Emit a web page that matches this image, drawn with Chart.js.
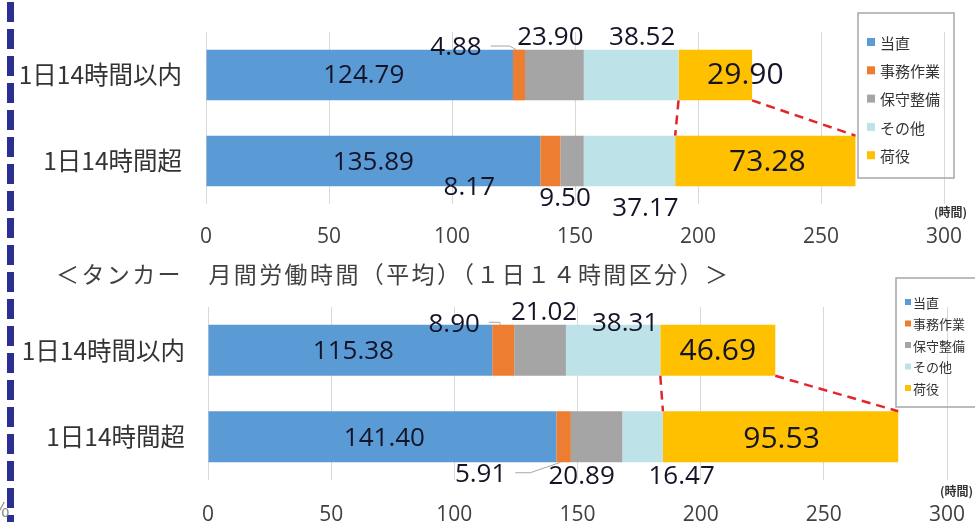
<!DOCTYPE html>
<html lang="ja">
<head>
<meta charset="utf-8">
<title>月間労働時間（1日14時間区分）</title>
<script src="https://cdn.jsdelivr.net/npm/chart.js@4.4.1/dist/chart.umd.min.js"></script>
<style>
  html, body { margin: 0; padding: 0; background: #fff; }
  body {
    width: 975px; height: 522px; position: relative; overflow: hidden;
    font-family: "Noto Sans CJK JP", "Noto Sans", sans-serif;
  }
  .chart-box { position: absolute; left: 0; width: 975px; height: 260px; }
  #upperBox { top: 0; }
  #tankerBox { top: 262px; }
  .divider {
    position: absolute; left: 7px; top: 2px; width: 7px; height: 522px;
    background: repeating-linear-gradient(to bottom, #2b2f8f 0 20px, transparent 20px 27px);
  }
  .title {
    position: absolute; left: 56px; top: 257px; font-size: 23px; letter-spacing: 2.4px;
    color: #404040; white-space: nowrap; line-height: 32px;
  }
  .unit { position: absolute; font-size: 12px; font-weight: bold; color: #333; white-space: nowrap; }
  .edge-mark { position: absolute; left: -9px; top: 494px; font-size: 20px; color: #888; }
</style>
</head>
<body>
<div class="chart-box" id="upperBox"><canvas id="upperChart"></canvas></div>
<div class="chart-box" id="tankerBox"><canvas id="tankerChart"></canvas></div>
<div class="divider"></div>
<div class="title">＜タンカー　月間労働時間（平均）（１日１４時間区分）＞</div>
<div class="unit" style="left:934px; top:203px;">(時間)</div>
<div class="unit" style="left:940px; top:482px;">(時間)</div>
<div class="edge-mark">%</div>

<script>
const categories = ['1日14時間以内', '1日14時間超'];
const seriesNames = ['当直', '事務作業', '保守整備', 'その他', '荷役'];
const seriesColors = ['#5b9bd5', '#ed7d31', '#a5a5a5', '#bde2e7', '#ffc000'];
const xTicks = [0, 50, 100, 150, 200, 250, 300];

// upper chart
const upperDuty = [124.79, 135.89];
const upperOffice = [4.88, 8.17];
const upperMaint = [23.90, 9.50];
const upperOther = [38.52, 37.17];
const upperCargo = [29.90, 73.28];

// tanker chart
const tankerDuty = [115.38, 141.40];
const tankerOffice = [8.90, 5.91];
const tankerMaint = [21.02, 20.89];
const tankerOther = [38.31, 16.47];
const tankerCargo = [46.69, 95.53];

const JP_FONT = '"Noto Sans CJK JP", "Noto Sans", sans-serif';
const NUM_FONT = '"Open Sans", "Noto Sans CJK JP", sans-serif';

function buildChart(canvasId, series, cfg) {
    const datasets = series.map((values, k) => ({
        label: seriesNames[k],
        data: values,
        backgroundColor: seriesColors[k],
        borderWidth: 0,
        barPercentage: 0.59,
        categoryPercentage: 1
    }));

    const decor = {
        id: 'decor',
        afterDatasetsDraw(chart) {
            const ctx = chart.ctx;
            const metas = chart.data.datasets.map((d, k) => chart.getDatasetMeta(k));

            // red dashed guides between the cargo segments of both bars
            const cargo = metas[metas.length - 1].data;
            const a = cargo[0], b = cargo[1];
            ctx.save();
            ctx.strokeStyle = '#e3262b';
            ctx.lineWidth = 2.5;
            ctx.setLineDash([9, 6]);
            [[a.base, b.base], [a.x, b.x]].forEach(([x1, x2]) => {
                ctx.beginPath();
                ctx.moveTo(x1, a.y + a.height / 2);
                ctx.lineTo(x2, b.y - b.height / 2);
                ctx.stroke();
            });
            ctx.restore();

            // value labels
            ctx.save();
            ctx.textAlign = 'center';
            ctx.textBaseline = 'middle';
            ctx.fillStyle = '#141428';
            const labelPos = [];
            metas.forEach((meta, k) => {
                labelPos[k] = [];
                const size = k === metas.length - 1 ? 30 : 26;
                ctx.font = size + 'px ' + NUM_FONT;
                meta.data.forEach((el, i) => {
                    const off = cfg.labelOffsets[k][i];
                    const text = chart.data.datasets[k].data[i].toFixed(2);
                    const cx = (el.x + el.base) / 2 + off[0];
                    const cy = el.y + off[1];
                    ctx.fillText(text, cx, cy);
                    labelPos[k][i] = { cx, cy, w: ctx.measureText(text).width };
                });
            });
            ctx.restore();

            // leader lines for the small segments
            ctx.save();
            ctx.strokeStyle = '#a6a6a6';
            ctx.lineWidth = 1;
            cfg.leaders.forEach(ld => {
                const el = metas[ld.ds].data[ld.i];
                const lp = labelPos[ld.ds][ld.i];
                const x0 = lp.cx + lp.w / 2 + 9;
                const y0 = lp.cy - 2;
                const edgeY = ld.edge === 'top' ? el.y - el.height / 2 : el.y + el.height / 2;
                ctx.beginPath();
                ctx.moveTo(x0, y0);
                ctx.lineTo(x0 + ld.run, y0);
                ctx.lineTo((el.x + el.base) / 2 - 3, edgeY);
                ctx.stroke();
            });
            ctx.restore();
        },
        afterDraw(chart) {
            // legend box laid over the plot
            const lg = cfg.legend;
            const ctx = chart.ctx;
            ctx.save();
            ctx.strokeStyle = '#a6a6a6';
            ctx.lineWidth = 1.5;
            ctx.strokeRect(lg.x, lg.y, lg.w, lg.h);
            ctx.font = lg.font + 'px ' + JP_FONT;
            ctx.textBaseline = 'middle';
            ctx.textAlign = 'left';
            chart.data.datasets.forEach((ds, k) => {
                const y = lg.y + lg.first + k * lg.step;
                ctx.fillStyle = ds.backgroundColor;
                ctx.fillRect(lg.x + lg.markX, y - lg.mark / 2, lg.mark, lg.mark);
                ctx.fillStyle = '#333';
                ctx.fillText(ds.label, lg.x + lg.textX, y + 1);
            });
            ctx.restore();
        }
    };

    // keep the plot area exactly where the layout padding puts it
    const noScalePadding = scale => {
        scale.paddingLeft = 0;
        scale.paddingRight = 0;
        scale.paddingTop = 0;
        scale.paddingBottom = 0;
    };

    return new Chart(document.getElementById(canvasId), {
        type: 'bar',
        data: { labels: categories, datasets },
        options: {
            indexAxis: 'y',
            responsive: true,
            maintainAspectRatio: false,
            animation: false,
            layout: { padding: { top: cfg.top, right: cfg.right, left: 0, bottom: 0 } },
            plugins: {
                legend: { display: false },
                tooltip: { enabled: false }
            },
            scales: {
                x: {
                    stacked: true,
                    min: 0,
                    max: 300,
                    afterBuildTicks: scale => { scale.ticks = xTicks.map(v => ({ value: v })); },
                    afterFit: scale => { scale.height = cfg.xAxisHeight; noScalePadding(scale); },
                    grid: { color: '#d9d9d9', lineWidth: 1, drawTicks: false },
                    border: { display: false },
                    ticks: { color: '#404040', padding: cfg.xPad, font: { family: NUM_FONT, size: 21 } }
                },
                y: {
                    stacked: true,
                    afterFit: scale => { scale.width = cfg.axisLeft; noScalePadding(scale); },
                    grid: { display: false, drawTicks: false },
                    border: { display: false },
                    ticks: { color: '#333', padding: cfg.yPad, font: { family: JP_FONT, size: 24.5 } }
                }
            }
        },
        plugins: [decor]
    });
}

buildChart('upperChart',
    [upperDuty, upperOffice, upperMaint, upperOther, upperCargo],
    {
        top: 32, right: 31, axisLeft: 206, xAxisHeight: 56, xPad: 20, yPad: 24,
        labelOffsets: [
            [[4, 1], [0, 2]],
            [[-63, -27], [-81, 27]],
            [[-4, -37], [-7, 38]],
            [[11, -37], [16, 48]],
            [[30, 0], [2, 1]]
        ],
        leaders: [{ ds: 1, i: 0, run: 19, edge: 'top' }],
        legend: { x: 858, y: 13, w: 96, h: 165, first: 29, step: 28.3, mark: 8, markX: 9, textX: 22, font: 15 }
    });

buildChart('tankerChart',
    [tankerDuty, tankerOffice, tankerMaint, tankerOther, tankerCargo],
    {
        top: 45, right: 28, axisLeft: 208, xAxisHeight: 42, xPad: 22, yPad: 23,
        labelOffsets: [
            [[3, 1], [2, 2]],
            [[-49, -26], [-83, 38]],
            [[4, -38], [-15, 40]],
            [[12, -27], [39, 40]],
            [[0, 1], [1, 3]]
        ],
        leaders: [
            { ds: 1, i: 0, run: 11, edge: 'top' },
            { ds: 1, i: 1, run: 15, edge: 'bottom' }
        ],
        legend: { x: 896, y: 16, w: 90, h: 129, first: 24, step: 21.5, mark: 6, markX: 9, textX: 17, font: 13 }
    });
</script>
</body>
</html>
